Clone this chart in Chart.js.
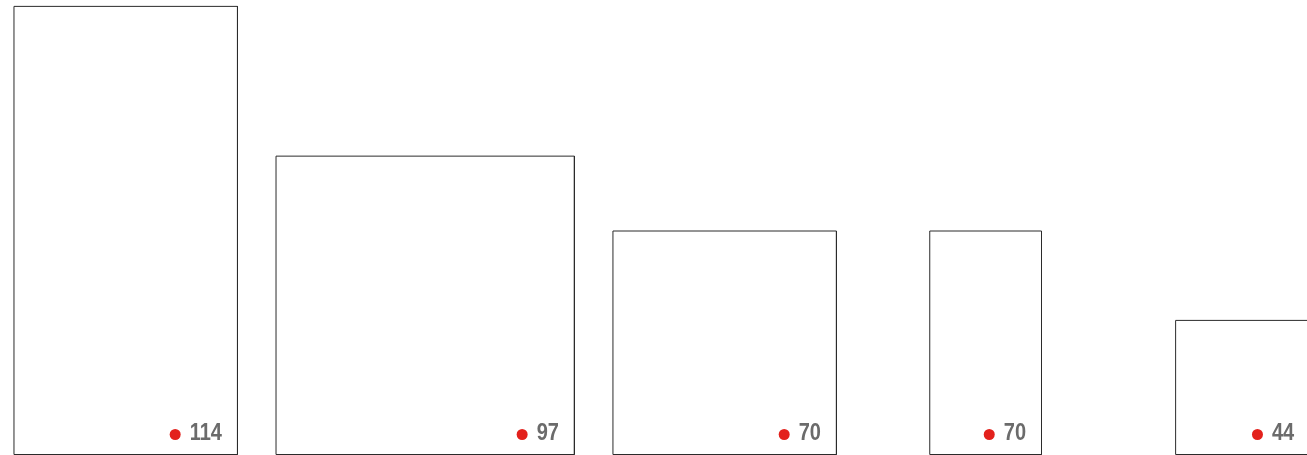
<!DOCTYPE html>
<html>
<head>
<meta charset="utf-8">
<script src="https://cdn.jsdelivr.net/npm/chart.js@4"></script>
<style>
    html, body { margin: 0; padding: 0; background: #ffffff; }
    #wrap { width: 1307px; height: 455px; position: relative; overflow: hidden; }
</style>
</head>
<body>
<div id="wrap"><canvas id="boxChart"></canvas></div>
<script>
// rectangles, in chart units
const labels = [114, 97, 70, 70, 44];
const xStart = [0.125, 2.47, 5.485, 8.32, 10.52];
const widths = [2, 2.67, 2, 1, 1.2];
const heights = [4.01, 2.67, 2, 2, 1.2];

// each box is drawn as a closed line through its four corners
const datasets = labels.map((label, i) => {
    const x0 = xStart[i];
    const x1 = xStart[i] + widths[i];
    const h = heights[i];
    return {
        label: String(label),
        data: [
            { x: x0, y: 0 },
            { x: x0, y: h },
            { x: x1, y: h },
            { x: x1, y: 0 },
            { x: x0, y: 0 }
        ],
        showLine: true,
        borderColor: '#2b2b2b',
        borderWidth: 1,
        pointRadius: 0,
        fill: false,
        tension: 0
    };
});

// condensed look: Liberation Sans bold squeezed horizontally
const squeeze = 0.87;

const valueLabels = {
    id: 'valueLabels',
    afterDatasetsDraw(chart) {
        const { ctx, scales: { x, y } } = chart;
        ctx.save();
        ctx.font = 'bold 23px "Liberation Sans", Arial, sans-serif';
        ctx.textBaseline = 'alphabetic';
        labels.forEach((label, i) => {
            const right = x.getPixelForValue(xStart[i] + widths[i]) - 15.5;
            const base = y.getPixelForValue(0) - 14.5;
            const text = String(label);
            const w = ctx.measureText(text).width * squeeze;
            ctx.save();
            ctx.translate(right - w, base);
            ctx.scale(squeeze, 1);
            ctx.textAlign = 'left';
            ctx.fillStyle = '#6b6b6b';
            ctx.fillText(text, 0, 0);
            ctx.restore();
            ctx.fillStyle = '#e3211c';
            ctx.beginPath();
            ctx.arc(right - w - 14.5, base - 5.5, 5.5, 0, Math.PI * 2);
            ctx.fill();
        });
        ctx.restore();
    }
};

new Chart(document.getElementById('boxChart'), {
    type: 'scatter',
    data: { datasets },
    options: {
        responsive: true,
        maintainAspectRatio: false,
        animation: false,
        layout: { padding: 0 },
        plugins: {
            legend: { display: false },
            tooltip: { enabled: false }
        },
        scales: {
            x: { type: 'linear', display: false, min: 0, max: 1307 / 111.75 },
            y: { type: 'linear', display: false, min: -0.5 / 111.75, max: 454.5 / 111.75 }
        }
    },
    plugins: [valueLabels]
});
</script>
</body>
</html>
